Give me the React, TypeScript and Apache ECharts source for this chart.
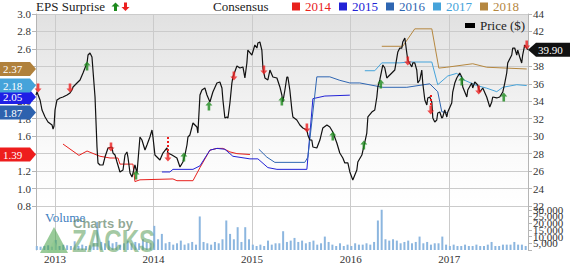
import { useEffect, useRef } from "react";
import * as echarts from "echarts";

const SERIF = '"Liberation Serif", "Times New Roman", serif';
const SANS = '"Liberation Sans", Arial, sans-serif';

const yearTicks = [2013, 2014, 2015, 2016, 2017];
const xMin = 2012.807;
const xMax = 2017.8;

const consensusYears = ["2014", "2015", "2016", "2017", "2018"];
const consensusColors = ["#e8211d", "#2222d6", "#2f66b2", "#45a3da", "#b5873f"];

const eps2014: [number, number][] = [
  [2013.081, 1.51], [2013.243, 1.38], [2013.325, 1.43], [2013.456, 1.37], [2013.558, 1.35],
  [2013.639, 1.35], [2013.659, 1.28], [2013.791, 1.28], [2013.811, 1.08], [2013.862, 1.1],
  [2014.197, 1.11], [2014.237, 1.09], [2014.4, 1.09], [2014.471, 1.24], [2014.572, 1.44],
  [2014.643, 1.46], [2014.704, 1.46], [2014.775, 1.42], [2014.846, 1.4], [2014.978, 1.39],
];
const eps2015: [number, number][] = [
  [2014.085, 1.19], [2014.166, 1.19], [2014.197, 1.22], [2014.4, 1.22], [2014.471, 1.26],
  [2014.572, 1.44], [2014.643, 1.46], [2014.724, 1.45], [2014.805, 1.37], [2014.978, 1.34],
  [2015.059, 1.34], [2015.16, 1.24], [2015.252, 1.22], [2015.556, 1.22], [2015.617, 2.03],
  [2015.738, 2.06], [2015.992, 2.07],
];
const eps2016: [number, number][] = [
  [2015.069, 1.45], [2015.15, 1.36], [2015.231, 1.3], [2015.535, 1.3], [2015.566, 1.36],
  [2015.657, 2.28], [2015.789, 2.28], [2015.89, 2.24], [2015.992, 2.21], [2016.093, 2.21],
  [2016.327, 2.16], [2016.57, 2.16], [2016.803, 2.2], [2016.884, 2.11], [2016.925, 1.88],
  [2016.976, 1.87],
];
const eps2017: [number, number][] = [
  [2016.144, 2.35], [2016.245, 2.35], [2016.316, 2.44], [2016.499, 2.44], [2016.6, 2.45],
  [2016.824, 2.45], [2016.884, 2.19], [2016.986, 2.29], [2017.077, 2.32], [2017.158, 2.24],
  [2017.28, 2.18], [2017.381, 2.15], [2017.483, 2.11], [2017.544, 2.16], [2017.686, 2.19],
  [2017.787, 2.18],
];
const eps2018: [number, number][] = [
  [2016.316, 2.63], [2016.529, 2.63], [2016.651, 2.83], [2016.824, 2.83], [2016.895, 2.38],
  [2016.976, 2.39], [2017.239, 2.43], [2017.381, 2.39], [2017.584, 2.38], [2017.787, 2.37],
];
const consensusSeries = [eps2014, eps2015, eps2016, eps2017, eps2018];

const latestConsensus = [
  { label: "2.05", value: 2.05, color: "#1f1fe6" },
  { label: "2.18", value: 2.18, color: "#45a3da" },
  { label: "2.37", value: 2.37, color: "#b0813c" },
  { label: "1.87", value: 1.87, color: "#2d62ae" },
  { label: "1.39", value: 1.39, color: "#ee1d1d" },
];
const lastPrice = 39.9;

const price: [number, number][] = [
  [2012.807, 34.72], [2012.817, 35.06], [2012.848, 34.15], [2012.868, 33.0], [2012.899, 32.2],
  [2012.929, 31.63], [2012.97, 31.28], [2012.98, 30.82], [2012.99, 31.17], [2013.0, 33.0],
  [2013.02, 34.15], [2013.051, 34.38], [2013.081, 34.49], [2013.122, 34.72], [2013.152, 34.95],
  [2013.172, 35.29], [2013.183, 35.64], [2013.223, 36.09], [2013.254, 36.44], [2013.284, 37.24],
  [2013.304, 37.81], [2013.325, 38.39], [2013.335, 39.3], [2013.355, 39.53], [2013.375, 39.07],
  [2013.385, 37.58], [2013.406, 34.49], [2013.426, 28.76], [2013.436, 26.93], [2013.456, 26.7],
  [2013.487, 26.7], [2013.507, 27.61], [2013.538, 28.65], [2013.578, 28.76], [2013.588, 28.07],
  [2013.609, 27.84], [2013.629, 27.04], [2013.659, 25.9], [2013.69, 26.13], [2013.71, 27.84],
  [2013.73, 28.19], [2013.74, 27.61], [2013.761, 25.78], [2013.781, 25.32], [2013.811, 26.7],
  [2013.832, 25.78], [2013.862, 29.91], [2013.882, 29.56], [2013.913, 28.42], [2013.933, 28.99],
  [2013.963, 29.91], [2013.984, 30.71], [2013.994, 29.91], [2014.014, 27.84], [2014.065, 27.27],
  [2014.095, 28.07], [2014.136, 28.65], [2014.146, 28.07], [2014.187, 27.84], [2014.237, 27.5],
  [2014.268, 26.47], [2014.298, 27.04], [2014.318, 27.84], [2014.339, 28.99], [2014.349, 29.91],
  [2014.369, 30.14], [2014.4, 31.51], [2014.44, 31.05], [2014.45, 30.36], [2014.471, 34.72],
  [2014.491, 35.29], [2014.521, 35.52], [2014.542, 34.72], [2014.572, 33.92], [2014.602, 35.06],
  [2014.643, 36.09], [2014.673, 36.21], [2014.694, 35.52], [2014.704, 34.15], [2014.724, 32.08],
  [2014.744, 32.2], [2014.755, 32.08], [2014.775, 33.8], [2014.795, 36.09], [2014.805, 36.78],
  [2014.846, 38.04], [2014.876, 37.81], [2014.907, 37.93], [2014.927, 36.67], [2014.947, 38.39],
  [2014.957, 39.87], [2014.998, 39.3], [2015.028, 40.45], [2015.049, 40.1], [2015.059, 40.68],
  [2015.079, 40.79], [2015.099, 39.87], [2015.11, 37.81], [2015.13, 36.67], [2015.16, 36.44],
  [2015.181, 37.58], [2015.211, 36.78], [2015.252, 36.67], [2015.282, 35.64], [2015.302, 34.72],
  [2015.312, 33.92], [2015.333, 35.29], [2015.353, 36.78], [2015.363, 36.78], [2015.383, 35.29],
  [2015.404, 33.0], [2015.414, 32.2], [2015.454, 31.85], [2015.485, 31.28], [2015.515, 30.94],
  [2015.556, 30.71], [2015.566, 30.14], [2015.586, 29.56], [2015.606, 29.56], [2015.617, 28.76],
  [2015.657, 28.65], [2015.688, 29.56], [2015.718, 30.94], [2015.759, 31.28], [2015.789, 31.05],
  [2015.819, 30.48], [2015.86, 29.22], [2015.89, 28.07], [2015.921, 27.5], [2015.941, 26.93],
  [2015.972, 26.93], [2015.992, 25.9], [2016.022, 24.98], [2016.063, 26.13], [2016.073, 27.04],
  [2016.114, 27.84], [2016.144, 29.33], [2016.164, 30.36], [2016.175, 32.2], [2016.215, 32.77],
  [2016.245, 33.0], [2016.266, 34.49], [2016.276, 35.64], [2016.296, 36.44], [2016.316, 37.58],
  [2016.327, 38.16], [2016.347, 37.81], [2016.367, 36.67], [2016.377, 36.78], [2016.418, 37.24],
  [2016.448, 37.58], [2016.479, 39.65], [2016.499, 40.1], [2016.519, 40.1], [2016.529, 40.79],
  [2016.55, 41.25], [2016.57, 39.53], [2016.58, 38.73], [2016.621, 37.93], [2016.631, 38.39],
  [2016.651, 38.39], [2016.671, 37.58], [2016.682, 36.09], [2016.702, 36.44], [2016.722, 37.58],
  [2016.732, 36.09], [2016.753, 34.15], [2016.773, 33.57], [2016.783, 34.38], [2016.803, 34.49],
  [2016.824, 33.92], [2016.834, 32.08], [2016.854, 31.63], [2016.874, 31.85], [2016.884, 32.66],
  [2016.905, 32.77], [2016.925, 32.08], [2016.935, 32.2], [2016.955, 33.0], [2016.976, 32.2],
  [2016.986, 32.77], [2017.026, 33.8], [2017.036, 35.06], [2017.057, 36.09], [2017.077, 36.67],
  [2017.107, 37.24], [2017.128, 36.78], [2017.138, 35.64], [2017.179, 34.49], [2017.189, 35.29],
  [2017.229, 36.09], [2017.239, 35.52], [2017.26, 36.21], [2017.29, 35.86], [2017.31, 35.06],
  [2017.341, 35.52], [2017.381, 34.49], [2017.412, 33.34], [2017.432, 33.92], [2017.442, 34.49],
  [2017.483, 34.38], [2017.513, 34.49], [2017.544, 35.06], [2017.564, 36.09], [2017.584, 37.24],
  [2017.594, 38.39], [2017.635, 39.3], [2017.645, 40.1], [2017.665, 40.1], [2017.686, 39.3],
  [2017.696, 39.87], [2017.716, 39.07], [2017.736, 38.39], [2017.746, 39.3], [2017.767, 40.45],
  [2017.787, 40.1], [2017.797, 39.9],
];

const epsBeats: [number, number][] = [
  [2013.325, 38.04], [2013.822, 25.55], [2014.308, 27.61], [2014.562, 33.46], [2015.302, 34.03],
  [2015.819, 30.02], [2016.134, 28.99], [2016.306, 35.98], [2017.128, 36.32], [2017.554, 34.49],
];
const epsMisses: [number, number][] = [
  [2012.828, 35.52], [2013.152, 35.52], [2013.568, 28.76], [2014.146, 27.61], [2014.815, 36.9],
  [2015.12, 37.58], [2015.556, 30.94], [2016.58, 38.61], [2016.813, 33.0], [2017.3, 35.29],
  [2017.787, 40.45],
];
// big misses: [date, price at arrow, top of dotted tail]
const bigMissTails: [number, number, number][] = [
  [2014.146, 27.61, 29.91],
  [2016.813, 33.0, 34.72],
];

const volumeStart = 2012.815;
const volumeStep = 1 / 26;
const volumeThousands = [
  3, 2.5, 3, 3.5, 2.5, 7.5, 3, 4, 3.5, 3, 6.5, 3, 4, 3, 3.5, 5, 21, 6, 5, 7, 5, 6, 4, 5, 7, 5,
  6, 5, 8, 6, 5, 18, 8, 12, 5, 6, 4, 5, 7, 4, 5, 6, 4, 25, 6, 5, 4, 6, 5, 8, 22, 12, 8, 17, 6,
  17, 8, 4, 3, 4, 3, 7, 4, 5, 5, 14, 6, 7, 9, 6, 7, 5, 6, 7, 4, 5, 10, 6, 4, 3, 5, 3, 4, 3, 5,
  4, 4, 5, 4, 6, 22, 30, 8, 7, 8, 7, 5, 6, 7, 5, 6, 10, 5, 6, 4, 5, 5, 10, 4, 3, 4, 3, 3, 4, 3,
  3, 4, 3, 3, 4, 6, 3, 3, 4, 4, 4, 6, 4, 4, 3,
];

const UP_ARROW = "path://M3.5,0 L7,4 L4.8,4 L4.8,9 L2.2,9 L2.2,4 L0,4 Z";
const DOWN_ARROW = "path://M3.5,9 L7,5 L4.8,5 L4.8,0 L2.2,0 L2.2,5 L0,5 Z";

const axisGray = "#b5b5b5";
const gridGray = "#cbcbcb";
const labelColor = "#333";

export default function App() {
  const ref = useRef<HTMLDivElement>(null);

  useEffect(() => {
    document.body.style.margin = "0";
    const chart = echarts.init(ref.current!, null, { renderer: "svg" });

    const volumeData = volumeThousands.map((v, i) => [volumeStart + i * volumeStep, v * 1000]);

    const xCommon = (gridIndex: number, showLabel: boolean) => ({
      gridIndex,
      type: "value",
      min: xMin,
      max: xMax,
      axisLine: { show: false },
      axisTick: { show: false, customValues: yearTicks },
      axisLabel: {
        show: showLabel,
        customValues: yearTicks,
        formatter: (v: number) => String(Math.round(v)),
        fontSize: 11,
        fontFamily: SERIF,
        color: labelColor,
        margin: 3,
      },
      splitLine: { show: true, lineStyle: { color: gridGray, width: 1 } },
    });

    const option: any = {
      animation: false,
      backgroundColor: "#ffffff",
      grid: [
        {
          left: 36,
          right: 42,
          top: 14,
          height: 192,
          show: true,
          borderWidth: 0,
          backgroundColor: new echarts.graphic.LinearGradient(0, 0, 0, 1, [
            { offset: 0, color: "#e1e1e1" },
            { offset: 0.7, color: "#fafafa" },
            { offset: 1, color: "#ffffff" },
          ]),
        },
        { left: 36, right: 42, top: 206, height: 47 },
      ],
      legend: [
        {
          data: consensusYears.map((y, i) => ({ name: y, textStyle: { color: consensusColors[i] } })),
          left: 292,
          top: 0,
          padding: 0,
          itemWidth: 8,
          itemHeight: 8,
          itemGap: 8,
          icon: "rect",
          selectedMode: false,
          textStyle: { fontSize: 13, fontFamily: SERIF },
        },
        {
          data: ["Price ($)"],
          left: 465,
          top: 19,
          padding: 0,
          itemWidth: 10,
          itemHeight: 5,
          icon: "rect",
          selectedMode: false,
          textStyle: { fontSize: 13, fontFamily: SERIF, color: "#222" },
        },
      ],
      xAxis: [xCommon(0, false), xCommon(1, true)],
      yAxis: [
        {
          gridIndex: 0,
          type: "value",
          position: "left",
          min: 0.8,
          max: 3.0,
          interval: 0.2,
          axisLine: { show: true, lineStyle: { color: axisGray } },
          axisTick: { show: true, length: 4, lineStyle: { color: axisGray } },
          axisLabel: {
            formatter: (v: number) => v.toFixed(1),
            fontSize: 11,
            fontFamily: SERIF,
            color: labelColor,
            margin: 5,
          },
          splitLine: { show: true, lineStyle: { color: gridGray } },
        },
        {
          gridIndex: 0,
          type: "value",
          position: "right",
          min: 22,
          max: 44,
          interval: 2,
          axisLine: { show: true, lineStyle: { color: axisGray } },
          axisTick: { show: true, length: 4, lineStyle: { color: axisGray } },
          axisLabel: { fontSize: 11, fontFamily: SERIF, color: labelColor, margin: 5 },
          splitLine: { show: false },
        },
        {
          gridIndex: 1,
          type: "value",
          position: "right",
          min: 0,
          max: 32800,
          interval: 5000,
          axisLine: { show: true, lineStyle: { color: axisGray } },
          axisTick: { show: true, length: 4, lineStyle: { color: axisGray } },
          axisLabel: {
            fontSize: 11,
            fontFamily: SERIF,
            color: labelColor,
            margin: 5,
            formatter: (v: number) =>
              v <= 0 || v > 30000 ? "" : v.toLocaleString("en-US"),
          },
          splitLine: { show: false },
        },
        {
          gridIndex: 1,
          type: "value",
          position: "left",
          axisLine: { show: true, lineStyle: { color: axisGray } },
          axisTick: { show: false },
          axisLabel: { show: false },
          splitLine: { show: false },
        },
      ],
      series: [
        ...consensusSeries.map((d, i) => ({
          name: consensusYears[i],
          type: "line",
          xAxisIndex: 0,
          yAxisIndex: 0,
          data: d,
          showSymbol: false,
          color: consensusColors[i],
          lineStyle: { color: consensusColors[i], width: 1 },
          z: 2,
        })),
        {
          name: "Price ($)",
          type: "line",
          xAxisIndex: 0,
          yAxisIndex: 1,
          data: price,
          showSymbol: false,
          color: "#000",
          lineStyle: { color: "#111", width: 1.2 },
          z: 3,
        },
        {
          name: "beats",
          type: "scatter",
          xAxisIndex: 0,
          yAxisIndex: 1,
          data: epsBeats,
          symbol: UP_ARROW,
          symbolSize: [7, 9],
          itemStyle: { color: "#1d8a1d" },
          z: 4,
        },
        {
          name: "misses",
          type: "scatter",
          xAxisIndex: 0,
          yAxisIndex: 1,
          data: epsMisses,
          symbol: DOWN_ARROW,
          symbolSize: [7, 9],
          itemStyle: { color: "#ec1f1f" },
          z: 4,
          markLine: {
            silent: true,
            symbol: ["none", "none"],
            label: { show: false },
            lineStyle: { color: "#ec1f1f", width: 2, type: [2, 2] },
            data: bigMissTails.map(([d, p, top]) => [
              { coord: [d, top] },
              { coord: [d, p + 0.5] },
            ]),
          },
        },
        {
          name: "Volume",
          type: "bar",
          xAxisIndex: 1,
          yAxisIndex: 2,
          data: volumeData,
          barWidth: 2,
          itemStyle: { color: "#8cb6df" },
          z: 2,
        },
      ],
    };

    chart.setOption(option);

    const ly = (v: number) => chart.convertToPixel({ yAxisIndex: 0 } as any, v) as number;
    const ry = (v: number) => chart.convertToPixel({ yAxisIndex: 1 } as any, v) as number;

    const badges: any[] = [];
    latestConsensus.forEach((b) => {
      const y = ly(b.value);
      badges.push({
        type: "polygon",
        z: 100,
        shape: { points: [[0, y - 7], [30, y - 7], [36, y], [30, y + 7], [0, y + 7]] },
        style: { fill: b.color },
      });
      badges.push({
        type: "text",
        z: 101,
        x: 3,
        y,
        style: {
          text: b.label,
          fill: "#fff",
          font: `11px ${SERIF}`,
          verticalAlign: "middle",
          textVerticalAlign: "middle",
        },
      });
    });
    const py = ry(lastPrice);
    badges.push({
      type: "polygon",
      z: 100,
      shape: { points: [[528, py], [536, py - 7], [570, py - 7], [570, py + 7], [536, py + 7]] },
      style: { fill: "#111" },
    });
    badges.push({
      type: "text",
      z: 101,
      x: 538,
      y: py,
      style: {
        text: lastPrice.toFixed(2),
        fill: "#fff",
        font: `11px ${SERIF}`,
        verticalAlign: "middle",
        textVerticalAlign: "middle",
      },
    });

    const textEl = (text: string, x: number, y: number, fill: string, font: string, extra: any = {}) => ({
      type: "text",
      x,
      y,
      ...extra,
      style: { text, fill, font, verticalAlign: "middle", textVerticalAlign: "middle" },
    });

    const graphics: any[] = [
      textEl("EPS Surprise", 36, 6.5, "#222", `13px ${SERIF}`),
      {
        type: "polygon",
        shape: { points: [[115.5, 2.5], [119.5, 6.5], [117, 6.5], [117, 11], [114, 11], [114, 6.5], [111.5, 6.5]] },
        style: { fill: "#1d8a1d" },
      },
      {
        type: "polygon",
        shape: { points: [[125.5, 11], [129.5, 7], [127, 7], [127, 2.5], [124, 2.5], [124, 7], [121.5, 7]] },
        style: { fill: "#ec1f1f" },
      },
      textEl("Consensus", 213, 6.5, "#222", `13px ${SERIF}`),
      textEl("Volume", 45, 217, "#3f7fbf", `13px ${SERIF}`),
      {
        type: "polygon",
        z: 5,
        shape: { points: [[40, 253], [54, 227], [68, 253]] },
        style: { fill: "rgba(70,160,70,0.55)" },
      },
      {
        type: "polygon",
        z: 5,
        shape: { points: [[47, 253], [54, 240], [61, 253]] },
        style: { fill: "rgba(140,200,140,0.5)" },
      },
      textEl("Charts by", 73, 223, "rgba(110,140,115,0.75)", `bold 13px ${SANS}`, { z: 5 }),
      textEl("ZACKS", 72, 241, "rgba(85,155,85,0.55)", `bold 31px ${SANS}`, { z: 5, scaleX: 0.78 }),
      ...badges,
    ];

    chart.setOption({ graphic: graphics });

    return () => chart.dispose();
  }, []);

  return (
    <div
      ref={ref}
      style={{ position: "absolute", left: 0, top: 0, width: 570, height: 264 }}
    />
  );
}
